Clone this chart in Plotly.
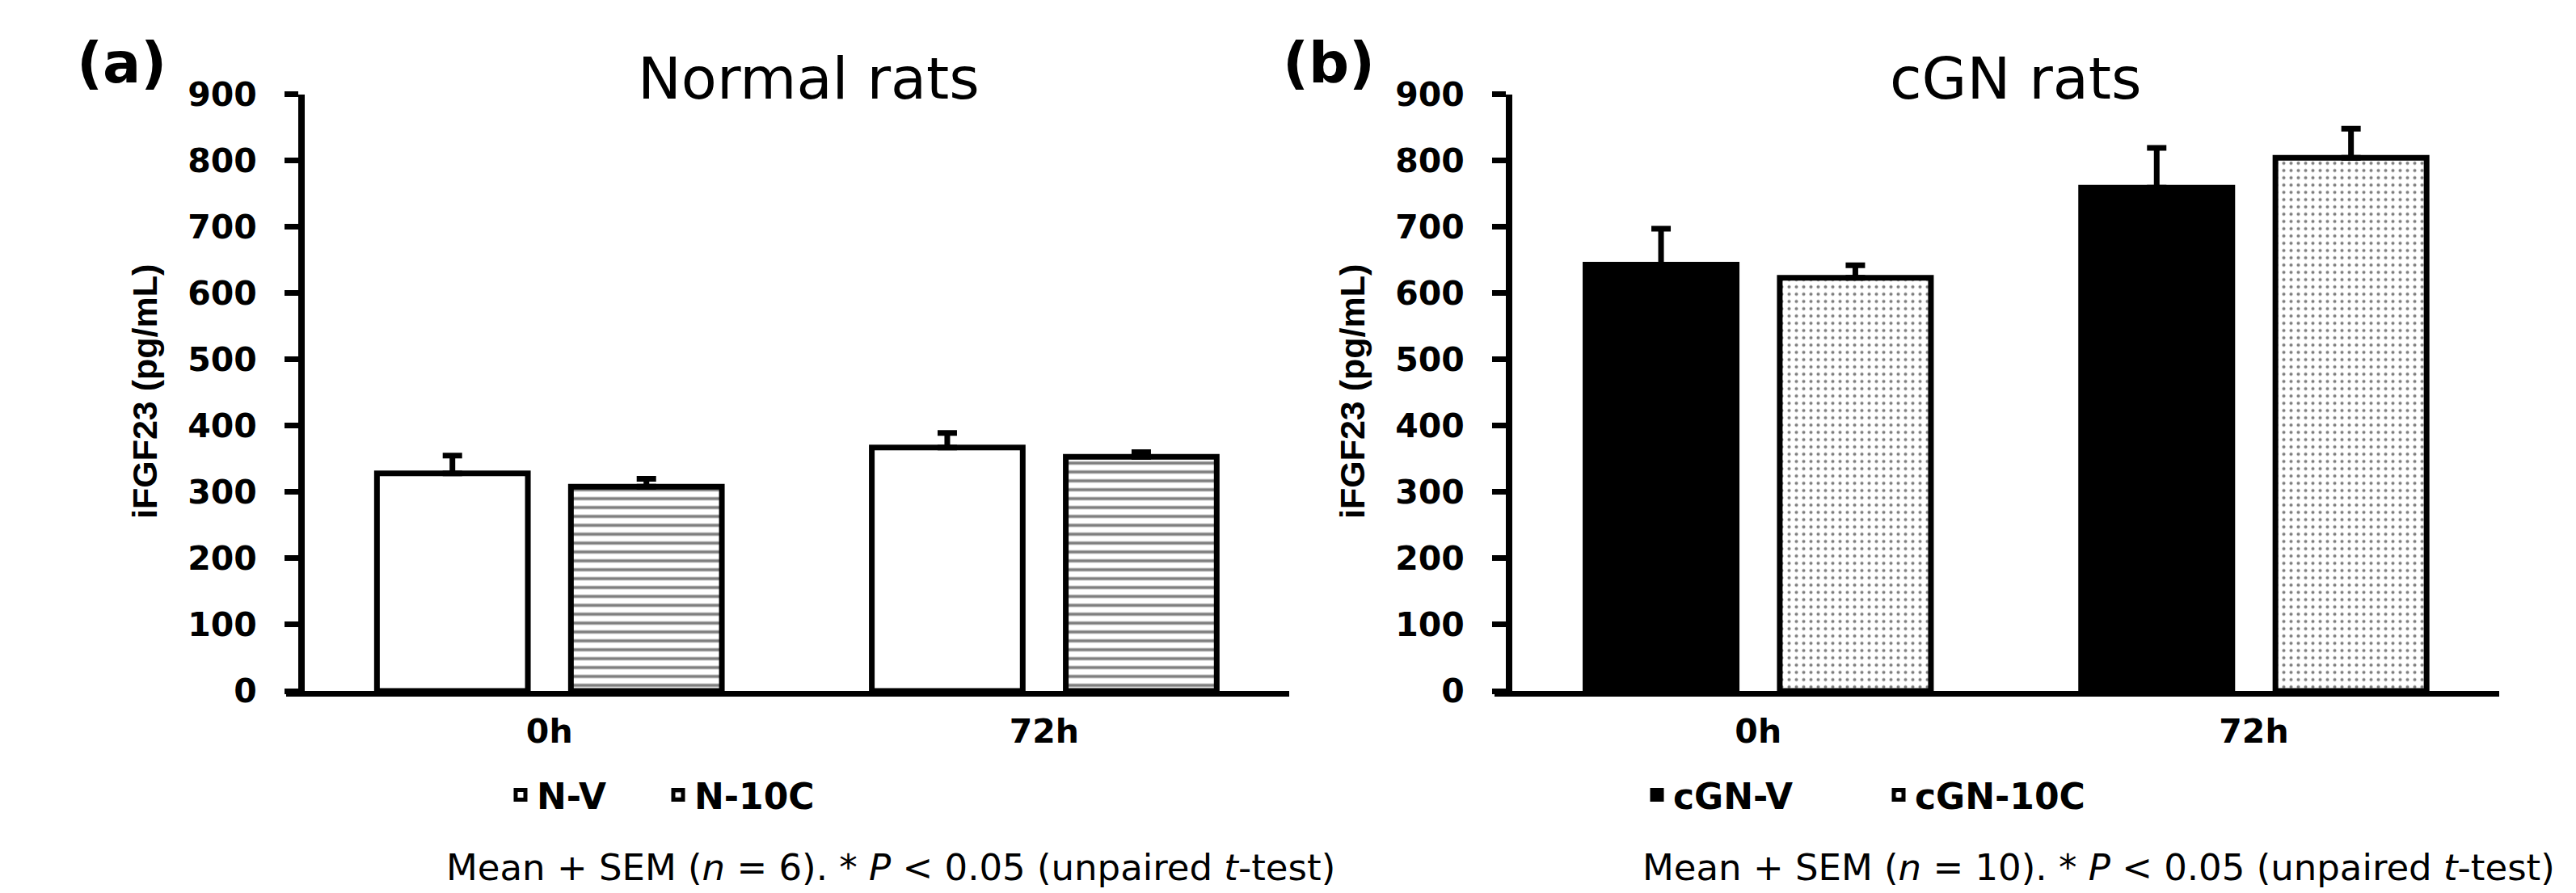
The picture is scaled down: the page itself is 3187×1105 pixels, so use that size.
import plotly.graph_objects as go

# ---------------- data ----------------
timepoints = ["0h", "72h"]

nv_mean = [328, 367]
nv_sem = [27, 22]
n10c_mean = [308, 353]
n10c_sem = [12, 7]

cgnv_mean = [643, 759]
cgnv_sem = [54, 60]
cgn10c_mean = [623, 804]
cgn10c_sem = [19, 44]

y_ticks = [0, 100, 200, 300, 400, 500, 600, 700, 800, 900]

panel_titles = ["Normal rats", "cGN rats"]
panel_labels = ["(a)", "(b)"]
y_title = "iFGF23 (pg/mL)"
captions = [
    "Mean + SEM (<i>n</i> = 6). * <i>P</i> &lt; 0.05 (unpaired <i>t</i>-test)",
    "Mean + SEM (<i>n</i> = 10). * <i>P</i> &lt; 0.05 (unpaired <i>t</i>-test)",
]

# ---------------- style ----------------
W, H = 3187, 1105
OFF = 8  # page body margin
FONT = "DejaVu Sans"
LW = 7


def px(v):
    return (v - OFF) / W


def py(v):
    return 1 - (v - OFF) / H


def err(vals):
    return dict(type="data", array=vals, arrayminus=[0] * len(vals), symmetric=False,
                color="black", thickness=7, width=12)


fig = go.Figure()

fig.add_trace(go.Bar(
    x=timepoints, y=nv_mean, name="N-V", xaxis="x", yaxis="y", legend="legend",
    marker=dict(color="white", line=dict(color="black", width=LW)),
    error_y=err(nv_sem)))
fig.add_trace(go.Bar(
    x=timepoints, y=n10c_mean, name="N-10C", xaxis="x", yaxis="y", legend="legend",
    marker=dict(color="white", line=dict(color="black", width=LW),
                pattern=dict(shape="-", fgcolor="black", bgcolor="white", size=11, solidity=0.35)),
    error_y=err(n10c_sem)))
fig.add_trace(go.Bar(
    x=timepoints, y=cgnv_mean, name="cGN-V", xaxis="x2", yaxis="y2", legend="legend2",
    marker=dict(color="black", line=dict(color="black", width=LW)),
    error_y=err(cgnv_sem)))
fig.add_trace(go.Bar(
    x=timepoints, y=cgn10c_mean, name="cGN-10C", xaxis="x2", yaxis="y2", legend="legend2",
    marker=dict(color="white", line=dict(color="black", width=LW),
                pattern=dict(shape=".", fgcolor="black", bgcolor="white", size=9, solidity=0.16)),
    error_y=err(cgn10c_sem)))

ydom = [py(855), py(116.5)]
xrange = [-0.532, 1.495]

tickfont = dict(family=FONT, size=41, color="black", weight="bold")

xcommon = dict(range=xrange, showline=True, linewidth=LW, linecolor="black", ticks="",
               showgrid=False, zeroline=False, tickfont=tickfont, ticklabelstandoff=8,
               automargin=False)
ycommon = dict(range=[0, 900], tickvals=y_ticks, ticks="outside", ticklen=17, tickwidth=7,
               tickcolor="black", showline=True, linewidth=8, linecolor="black",
               showgrid=False, zeroline=False, tickfont=tickfont, ticklabelstandoff=26,
               domain=ydom, anchor="free", automargin=False)

legfont = dict(family=FONT, size=44, color="black", weight="bold")

fig.update_layout(
    width=W, height=H,
    margin=dict(l=0, r=0, t=0, b=0, pad=0, autoexpand=False),
    paper_bgcolor="white", plot_bgcolor="white",
    barmode="group", bargap=0.216, bargroupgap=0.222,
    xaxis=dict(domain=[px(354), px(1595)], anchor="y", **xcommon),
    yaxis=dict(position=px(373), **ycommon),
    xaxis2=dict(domain=[px(1849), px(3092)], anchor="y2", **xcommon),
    yaxis2=dict(position=px(1867), **ycommon),
    legend=dict(orientation="h", x=px(624), y=py(984), xanchor="left", yanchor="middle",
                font=legfont, bgcolor="rgba(0,0,0,0)",
                entrywidth=150, entrywidthmode="pixels"),
    legend2=dict(orientation="h", x=px(2030), y=py(984), xanchor="left", yanchor="middle",
                 font=legfont, bgcolor="rgba(0,0,0,0)",
                 entrywidth=254, entrywidthmode="pixels"),
)

ann = []
for i, dx in enumerate([0, 1494]):
    ann.append(dict(text=panel_labels[i], x=px(150 + dx), y=py(78), xref="paper", yref="paper",
                    showarrow=False, xanchor="center", yanchor="middle",
                    font=dict(family=FONT, size=70, color="black", weight="bold")))
    ann.append(dict(text=panel_titles[i], x=px(1000 + dx), y=py(97), xref="paper", yref="paper",
                    showarrow=False, xanchor="center", yanchor="middle",
                    font=dict(family=FONT, size=72, color="black")))
    ann.append(dict(text=y_title, x=px(179 + dx), y=py(485), xref="paper", yref="paper",
                    showarrow=False, xanchor="center", yanchor="middle", textangle=-90,
                    font=dict(family="Liberation Sans", size=43, color="black", weight="bold")))
    ann.append(dict(text=captions[i], x=px(1102 + dx), y=py(1073), xref="paper", yref="paper",
                    showarrow=False, xanchor="center", yanchor="middle",
                    font=dict(family=FONT, size=45, color="black")))
fig.update_layout(annotations=ann)

fig.write_html("out.html")
